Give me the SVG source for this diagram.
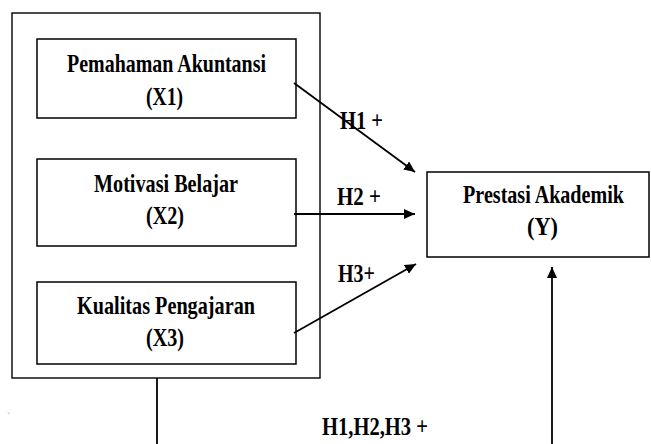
<svg xmlns="http://www.w3.org/2000/svg" width="651" height="444" viewBox="0 0 651 444">
<style>
.box{fill:#fff;stroke:#000;stroke-width:1.5}
.frame{fill:none;stroke:#000;stroke-width:1.4}
.t{font-family:"Liberation Serif","Times New Roman",serif;font-weight:bold;font-size:26px;fill:#000;text-anchor:middle}
.l{font-family:"Liberation Serif","Times New Roman",serif;font-weight:bold;font-size:25px;fill:#000}
.c{fill:none;stroke:#000;stroke-width:1.8}
</style>
<defs>
<marker id="ah" markerUnits="userSpaceOnUse" markerWidth="11" markerHeight="10" refX="11" refY="5" orient="auto">
<path d="M0,0 L11,5 L0,10 z" fill="#000"/>
</marker>
</defs>
<rect width="651" height="444" fill="#fff"/>
<g id="group-x">
<rect class="frame" x="12" y="13" width="308" height="365"/>
</g>
<g id="x1">
<rect class="box" x="37" y="39" width="259" height="79"/>
<text class="t" x="166.5" y="72" textLength="199" lengthAdjust="spacingAndGlyphs">Pemahaman Akuntansi</text>
<text class="t" x="164.5" y="105" textLength="37" lengthAdjust="spacingAndGlyphs">(X1)</text>
</g>
<g id="x2">
<rect class="box" x="37" y="159" width="259" height="87"/>
<text class="t" x="166" y="192" textLength="144" lengthAdjust="spacingAndGlyphs">Motivasi Belajar</text>
<text class="t" x="165" y="224" textLength="38" lengthAdjust="spacingAndGlyphs">(X2)</text>
</g>
<g id="x3">
<rect class="box" x="37" y="282" width="259" height="82"/>
<text class="t" x="166" y="314" textLength="178" lengthAdjust="spacingAndGlyphs">Kualitas Pengajaran</text>
<text class="t" x="165" y="346" textLength="38" lengthAdjust="spacingAndGlyphs">(X3)</text>
</g>
<g id="y">
<rect class="box" x="427" y="172" width="222" height="85"/>
<text class="t" transform="translate(543.5,203) scale(0.8,1)" x="0" y="0" textLength="201" lengthAdjust="spacingAndGlyphs">Prestasi Akademik</text>
<text class="t" x="542.5" y="235" textLength="31" lengthAdjust="spacingAndGlyphs">(Y)</text>
</g>
<g id="connectors">
<line class="c" x1="294" y1="83" x2="415" y2="172" marker-end="url(#ah)"/>
<line class="c" x1="294" y1="214" x2="415" y2="214" marker-end="url(#ah)"/>
<line class="c" x1="294" y1="333" x2="416" y2="264" marker-end="url(#ah)"/>
<line class="c" x1="552" y1="444" x2="552" y2="267" marker-end="url(#ah)"/>
<line class="c" x1="157" y1="378" x2="157" y2="444"/>
</g>
<g id="labels">
<text class="l" x="340" y="129" textLength="43" lengthAdjust="spacingAndGlyphs">H1 +</text>
<text class="l" x="337" y="205" textLength="44" lengthAdjust="spacingAndGlyphs">H2 +</text>
<text class="l" x="338" y="282" textLength="37" lengthAdjust="spacingAndGlyphs">H3+</text>
<text class="l" x="322" y="435" textLength="106" lengthAdjust="spacingAndGlyphs">H1,H2,H3 +</text>
<text x="7" y="420" font-family="Liberation Serif,serif" font-size="10" fill="#999">`</text>
</g>
</svg>
